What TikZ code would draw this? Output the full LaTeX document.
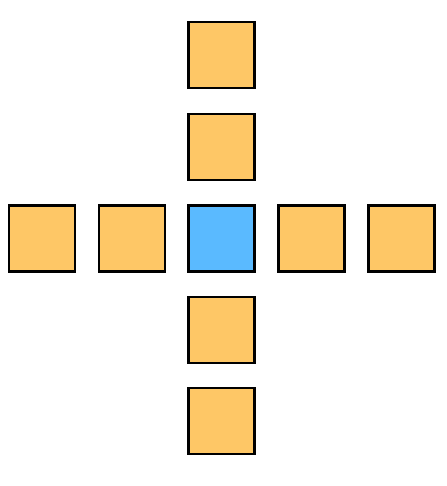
\documentclass[tikz,border=0pt]{standalone}
\definecolor{cellorange}{RGB}{254,199,102}
\definecolor{cellblue}{RGB}{90,186,255}
\tikzset{
  cell/.style={draw=black, line width=2.4pt, fill=cellorange, minimum width=66pt, minimum height=66pt, inner sep=0pt, outer sep=0pt},
  center cell/.style={cell, fill=cellblue}
}
\begin{document}
\begin{tikzpicture}[x=1pt,y=-1pt]
\useasboundingbox (0,0) rectangle (446,486);
\node[center cell] (c) at (221.5,238.5) {};
\node[cell] (l1) at (131.7,238.5) {};
\node[cell] (l2) at (41.7,238.5) {};
\node[cell] (r1) at (311.5,238.5) {};
\node[cell] (r2) at (401.5,238.5) {};
\node[cell] (u1) at (221.5,147) {};
\node[cell] (u2) at (221.5,55) {};
\node[cell] (d1) at (221.5,330) {};
\node[cell] (d2) at (221.5,421) {};
\end{tikzpicture}
\end{document}
